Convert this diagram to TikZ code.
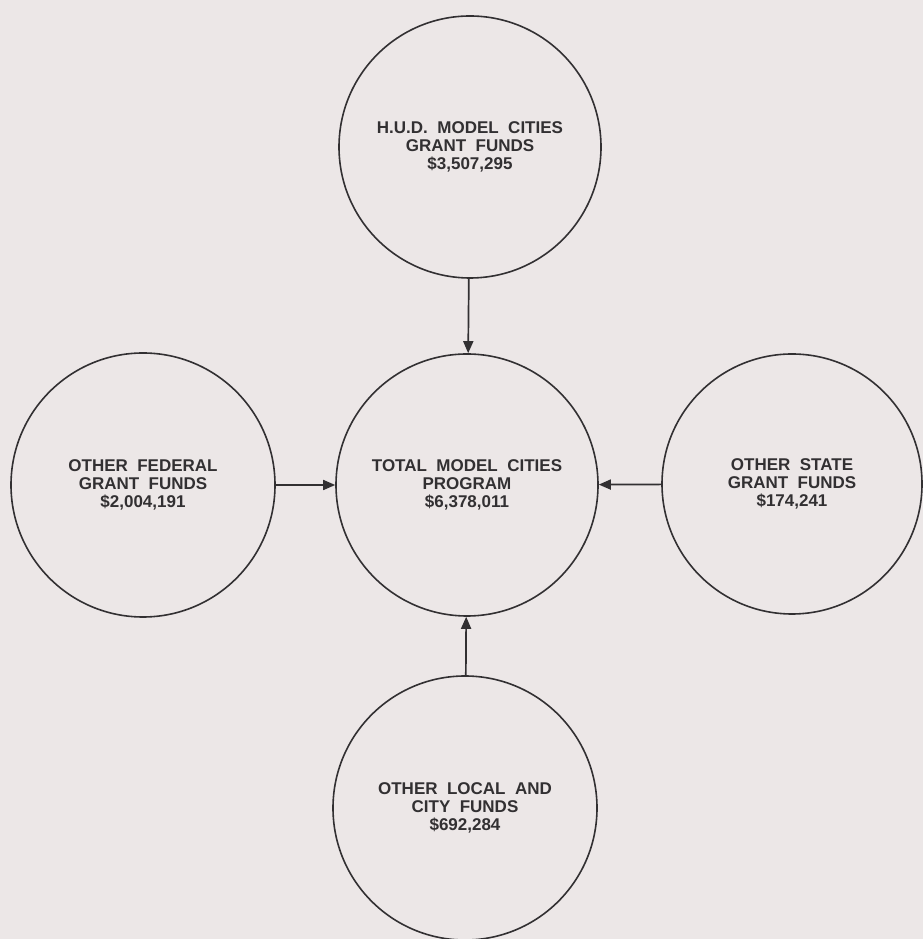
\documentclass[tikz,border=0pt]{standalone}
\usepackage{fontspec}
\setmainfont{Liberation Sans}
\usetikzlibrary{arrows.meta}
\definecolor{paper}{RGB}{236,231,231}
\definecolor{ink}{RGB}{50,48,50}

\begin{document}
\begin{tikzpicture}[x=1pt, y=1pt,
    fund/.style={draw=ink, circle, line width=1.6pt, inner sep=0pt, text=ink,
      align=center, font=\fontsize{17}{18}\selectfont\bfseries},
    feed/.style={-{Triangle[length=12pt,width=10pt]}, draw=ink, line width=1.7pt}]
    % paper background, fixes the size of the page
    \fill[paper] (0,0) rectangle (923,939);
    \useasboundingbox (0,0) rectangle (923,939);

    % the five money circles
    \node[fund, minimum size=262pt] (total) at (467,454) {TOTAL~~MODEL~~CITIES\\PROGRAM\\\$6,378,011};
    \node[fund, minimum size=262pt] (hud) at (470,792) {H.U.D.~~MODEL~~CITIES\\GRANT~~FUNDS\\\$3,507,295};
    \node[fund, minimum size=264pt] (federal) at (143,454) {OTHER~~FEDERAL\\GRANT~~FUNDS\\\$2,004,191};
    \node[fund, minimum size=260pt] (state) at (792,455) {OTHER~~STATE\\GRANT~~FUNDS\\\$174,241};
    \node[fund, minimum size=264pt] (local) at (465,131) {OTHER~~LOCAL~~AND\\CITY~~FUNDS\\\$692,284};

    % every source feeds the total
    \draw[feed] (hud) -- (total);
    \draw[feed] (federal) -- (total);
    \draw[feed] (state) -- (total);
    \draw[feed] (local) -- (total);
\end{tikzpicture}
\end{document}
